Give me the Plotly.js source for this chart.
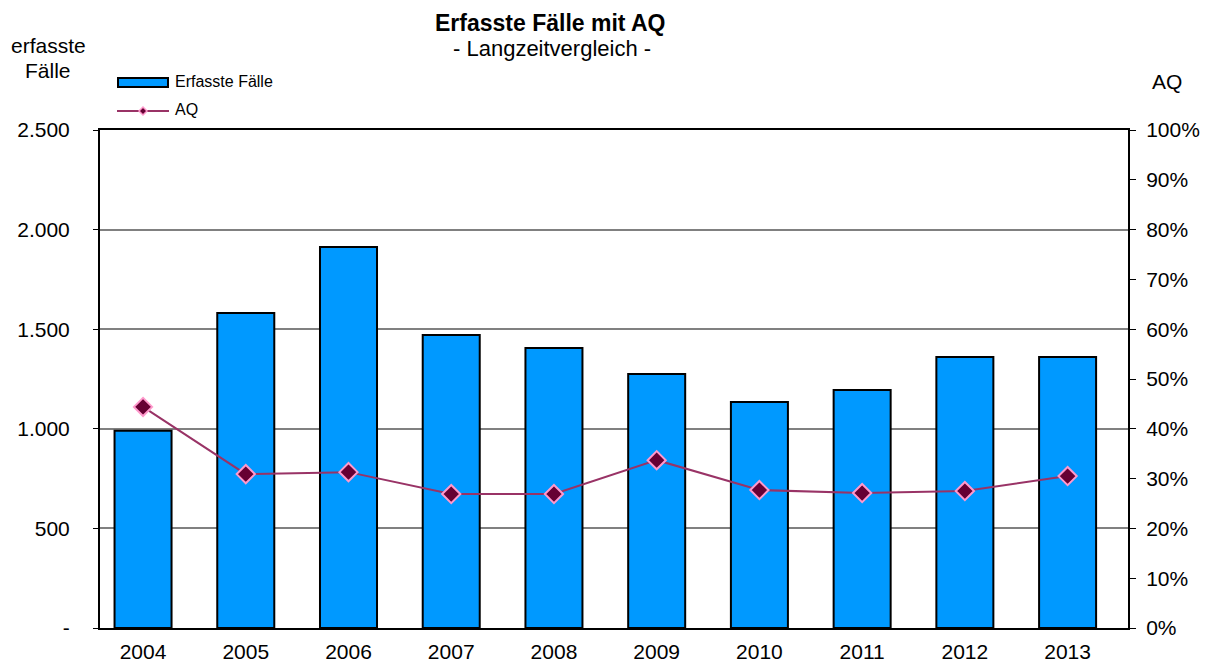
<!DOCTYPE html>
<html><head><meta charset="utf-8">
<script src="https://cdn.plot.ly/plotly-3.0.1.min.js"></script>
<style>body{margin:0;background:#fff}#c{width:1210px;height:664px}</style>
</head><body><div id="c"></div>
<script>
var years = ['2004','2005','2006','2007','2008','2009','2010','2011','2012','2013'];
var faelle = [990, 1581, 1913, 1471, 1406, 1275, 1135, 1195, 1360, 1360];
var aq = [44.4, 30.9, 31.3, 26.9, 26.9, 33.7, 27.7, 27.1, 27.5, 30.5];
var leftTicks = [0, 500, 1000, 1500, 2000, 2500];
var leftLabels = ['-', '500', '1.000', '1.500', '2.000', '2.500'];
var rightTicks = [0,10,20,30,40,50,60,70,80,90,100];
var rightLabels = rightTicks.map(function(v){return v+'%';});
var idx = years.map(function(_, i){return i;});

var W=1210,H=664,L=100,R=82,T=130,B=36;
var pw=W-L-R, ph=H-T-B;
function px(x){return (x-L)/pw;}
function py(y){return (H-B-y)/ph;}
var F='Liberation Sans, Arial, sans-serif';

var traces = [
 {type:'bar', x:idx, y:faelle, name:'Erfasste Fälle',
  marker:{color:'#0099FF', line:{color:'#000', width:2}}, showlegend:false, hoverinfo:'y'},
 {type:'scatter', mode:'lines+markers', x:idx, y:aq, yaxis:'y2', name:'AQ',
  line:{color:'#993366', width:2},
  marker:{symbol:'diamond', size:14, color:'#660033', line:{color:'#FF99CC', width:2}},
  showlegend:false}
];

var layout = {
 width:W, height:H, margin:{l:L,r:R,t:T,b:B},
 paper_bgcolor:'#fff', plot_bgcolor:'#fff',
 font:{family:F, size:21, color:'#000'},
 bargap:0.445,
 xaxis:{range:[-0.419, 9.588], tickvals:idx, ticktext:years, showline:true, linecolor:'#000',
        linewidth:2, mirror:true, ticks:'', showgrid:false, zeroline:false,
        tickfont:{size:21}, ticklabelstandoff:4},
 yaxis:{range:[0,2500], tickvals:leftTicks, ticktext:leftLabels, showgrid:true,
        gridcolor:'#808080', gridwidth:1.5, ticks:'outside', ticklen:5, tickcolor:'#000',
        showline:true, linecolor:'#000', linewidth:2, zeroline:false, ticklabelstandoff:19,
        tickfont:{size:21}},
 yaxis2:{range:[0,100], overlaying:'y', side:'right', tickvals:rightTicks, ticktext:rightLabels,
        showgrid:false, ticks:'outside', ticklen:6, tickcolor:'#000', showline:true,
        linecolor:'#000', linewidth:2, zeroline:false, ticklabelstandoff:6, tickfont:{size:21}},
 yaxis3:{range:[0,100], overlaying:'y', side:'right', tickvals:rightTicks, showticklabels:false,
        showgrid:false, ticks:'inside', ticklen:6, tickcolor:'#000', showline:false, zeroline:false},
 annotations:[
  {text:'<b>Erfasste Fälle mit AQ</b>', xref:'paper', yref:'paper', x:px(550), y:py(23),
   showarrow:false, font:{size:23}, xanchor:'center', yanchor:'middle'},
  {text:'- Langzeitvergleich -', xref:'paper', yref:'paper', x:px(552), y:py(49),
   showarrow:false, font:{size:22}, xanchor:'center', yanchor:'middle'},
  {text:'erfasste', xref:'paper', yref:'paper', x:px(48), y:py(46),
   showarrow:false, font:{size:21}, xanchor:'center', yanchor:'middle'},
  {text:'Fälle', xref:'paper', yref:'paper', x:px(48), y:py(70),
   showarrow:false, font:{size:21}, xanchor:'center', yanchor:'middle'},
  {text:'AQ', xref:'paper', yref:'paper', x:px(1167), y:py(82),
   showarrow:false, font:{size:21}, xanchor:'center', yanchor:'middle'},
  {text:'Erfasste Fälle', xref:'paper', yref:'paper', x:px(173), y:py(82),
   showarrow:false, font:{size:16}, xanchor:'left', yanchor:'middle'},
  {text:'AQ', xref:'paper', yref:'paper', x:px(173), y:py(110),
   showarrow:false, font:{size:16}, xanchor:'left', yanchor:'middle'}
 ],
 shapes:[
  {type:'rect', xref:'paper', yref:'paper', x0:px(118), x1:px(168), y0:py(78), y1:py(87),
   fillcolor:'#0099FF', line:{color:'#000', width:2}},
  {type:'line', xref:'paper', yref:'paper', x0:px(117), x1:px(169), y0:py(111), y1:py(111),
   line:{color:'#993366', width:2}},
  {type:'path', xref:'paper', yref:'paper',
   path:'M '+px(139)+' '+py(111)+' L '+px(143)+' '+py(107)+' L '+px(147)+' '+py(111)+' L '+px(143)+' '+py(115)+' Z',
   fillcolor:'#660033', line:{color:'#FF99CC', width:1.5}}
 ]
};
Plotly.newPlot('c', traces, layout, {displayModeBar:false});
</script></body></html>
